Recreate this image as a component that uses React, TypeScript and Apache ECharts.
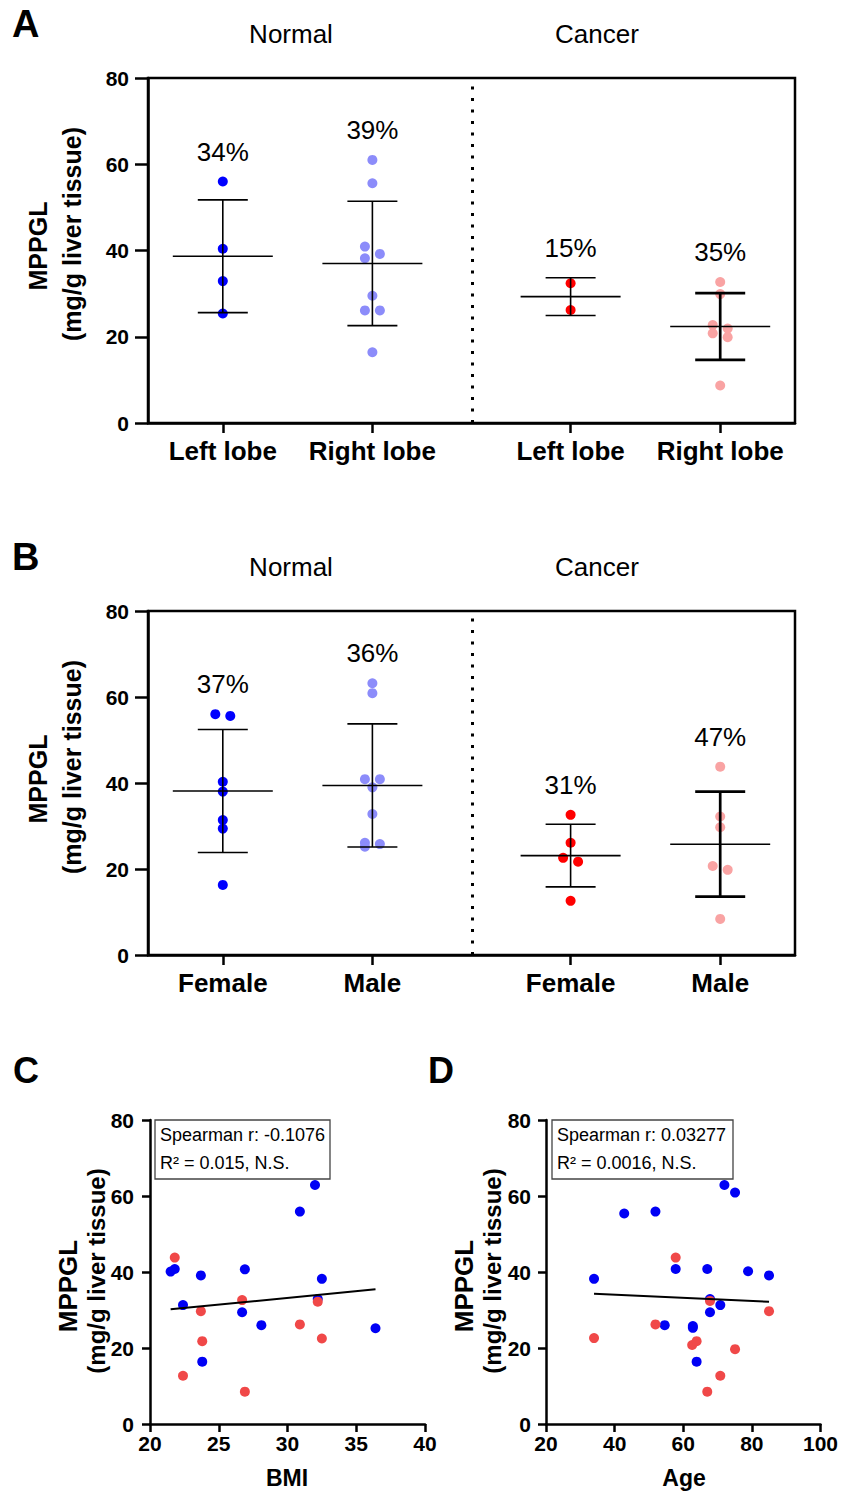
import { useEffect, useRef } from "react";
import * as echarts from "echarts";

const FONT = '"Liberation Sans", Arial, Helvetica, sans-serif';

// ---- Panel A: MPPGL by liver lobe ----
const LOBE_LABELS = ["Left lobe", "Right lobe", "Left lobe", "Right lobe"];
const NORMAL_LEFT_LOBE = [56.0, 40.4, 32.9, 25.4];
const NORMAL_RIGHT_LOBE = [61.0, 55.6, 40.9, 39.2, 38.2, 29.5, 26.1, 26.1, 16.4];
const CANCER_LEFT_LOBE = [32.4, 26.2];
const CANCER_RIGHT_LOBE = [32.7, 29.9, 22.7, 21.9, 20.8, 19.9, 8.7];
const LOBE_CV = ["34%", "39%", "15%", "35%"];

// ---- Panel B: MPPGL by sex ----
const SEX_LABELS = ["Female", "Male", "Female", "Male"];
const NORMAL_FEMALE = [56.0, 55.6, 40.3, 38.0, 31.4, 29.4, 16.3];
const NORMAL_MALE = [63.2, 60.9, 40.9, 40.9, 39.0, 32.8, 26.1, 25.8, 25.2];
const CANCER_FEMALE = [32.6, 26.1, 22.6, 21.7, 12.6];
const CANCER_MALE = [43.8, 32.2, 29.7, 20.7, 19.8, 8.4];
const SEX_CV = ["37%", "36%", "31%", "47%"];

const GROUP_HEADERS = ["Normal", "Cancer"];

// ---- Panel C: MPPGL vs BMI  [BMI, MPPGL] ----
const BMI_NORMAL = [
  [21.5, 40.1], [21.8, 40.8], [22.4, 31.3], [23.7, 39.1], [23.8, 16.4],
  [26.9, 40.7], [26.7, 29.4], [28.1, 26.0], [30.9, 55.9], [32.0, 62.9],
  [32.2, 32.9], [32.5, 38.2], [36.4, 25.2],
];
const BMI_CANCER = [
  [21.8, 43.8], [23.7, 29.7], [23.8, 21.8], [22.4, 12.7], [26.7, 32.6],
  [26.9, 8.5], [30.9, 26.2], [32.2, 32.2], [32.5, 22.5],
];
const BMI_STATS = ["Spearman r: -0.1076", "R\u00b2 = 0.015, N.S."];

// ---- Panel D: MPPGL vs age  [age, MPPGL] ----
const AGE_NORMAL = [
  [34.0, 38.2], [42.8, 55.4], [51.9, 55.9], [54.6, 26.0], [57.8, 40.8],
  [62.8, 25.8], [62.8, 25.3], [63.9, 16.4], [67.0, 40.8], [67.8, 32.9],
  [67.8, 29.4], [70.8, 31.3], [72.0, 62.9], [75.1, 60.9], [78.9, 40.2],
  [85.0, 39.1],
];
const AGE_CANCER = [
  [34.0, 22.6], [51.9, 26.2], [57.8, 43.8], [62.6, 20.8], [63.9, 21.8],
  [67.0, 8.5], [67.8, 32.4], [70.8, 12.7], [75.1, 19.7], [85.0, 29.7],
];
const AGE_STATS = ["Spearman r: 0.03277", "R\u00b2 = 0.0016, N.S."];

// colours
const NORMAL_DARK = "#0000FF";
const NORMAL_LIGHT = "#8C8CFA";
const CANCER_DARK = "#FF0000";
const CANCER_LIGHT = "#F9A3A3";
const SCATTER_BLUE = "#0000F5";
const SCATTER_RED = "#F04848";

// x slots of the four columns in the dot plots (value-axis units)
const SLOT_X = [1, 3, 5.65, 7.65];
const X_MAX = 8.65;
const DIVIDER_X = 4.325;

const meanOf = (a: number[]) => a.reduce((s, v) => s + v, 0) / a.length;
const sdOf = (a: number[]) => {
  const m = meanOf(a);
  return Math.sqrt(a.reduce((s, v) => s + (v - m) * (v - m), 0) / (a.length - 1));
};

// spread dots that would overlap into alternating left/right positions
function swarmOffsets(values: number[], thr: number, half: number): number[] {
  const idx = values.map((_, i) => i).sort((a, b) => values[b] - values[a]);
  const out = new Array(values.length).fill(0);
  let cluster = [idx[0]];
  const flush = () => {
    if (cluster.length > 1) cluster.forEach((k, j) => (out[k] = j % 2 === 0 ? -half : half));
  };
  for (let j = 1; j < idx.length; j++) {
    if (values[cluster[cluster.length - 1]] - values[idx[j]] < thr) cluster.push(idx[j]);
    else {
      flush();
      cluster = [idx[j]];
    }
  }
  flush();
  return out;
}

// least-squares line across all points, spanning the x range of the data
function fitLine(points: number[][]): number[][] {
  const n = points.length;
  const mx = points.reduce((s, p) => s + p[0], 0) / n;
  const my = points.reduce((s, p) => s + p[1], 0) / n;
  let sxy = 0;
  let sxx = 0;
  points.forEach(([x, y]) => {
    sxy += (x - mx) * (y - my);
    sxx += (x - mx) * (x - mx);
  });
  const b = sxy / sxx;
  const a = my - b * mx;
  const xs = points.map((p) => p[0]);
  const x0 = Math.min(...xs);
  const x1 = Math.max(...xs);
  return [
    [x0, a + b * x0],
    [x1, a + b * x1],
  ];
}

const axisLineStyle = { color: "#000", width: 2.5 };

function slotXAxis(gridIndex: number, labels: string[]) {
  return {
    type: "value",
    gridIndex,
    min: 0,
    max: X_MAX,
    axisLine: { show: true, onZero: false, lineStyle: axisLineStyle },
    axisTick: { show: true, customValues: SLOT_X, length: 10, lineStyle: axisLineStyle },
    axisLabel: {
      show: true,
      customValues: SLOT_X,
      margin: 15,
      fontSize: 26,
      fontWeight: "bold",
      color: "#000",
      fontFamily: FONT,
      formatter: (v: number) => {
        let best = 0;
        SLOT_X.forEach((s, i) => {
          if (Math.abs(s - v) < Math.abs(SLOT_X[best] - v)) best = i;
        });
        return labels[best];
      },
    },
    splitLine: { show: false },
  };
}

function mppglYAxis(gridIndex: number, tickLen: number, fontSize: number, margin: number) {
  return {
    type: "value",
    gridIndex,
    min: 0,
    max: 80,
    interval: 20,
    axisLine: { show: true, onZero: false, lineStyle: axisLineStyle },
    axisTick: { show: true, length: tickLen, lineStyle: axisLineStyle },
    axisLabel: { fontSize, fontWeight: "bold", color: "#000", margin, fontFamily: FONT },
    splitLine: { show: false },
  };
}

function numXAxis(gridIndex: number, min: number, max: number, interval: number) {
  return {
    type: "value",
    gridIndex,
    min,
    max,
    interval,
    axisLine: { show: true, onZero: false, lineStyle: axisLineStyle },
    axisTick: { show: true, length: 8, lineStyle: axisLineStyle },
    axisLabel: { fontSize: 21, fontWeight: "bold", color: "#000", margin: 9, fontFamily: FONT },
    splitLine: { show: false },
  };
}

function dotSeries(gridIndex: number, values: number[], slot: number, color: string) {
  const off = swarmOffsets(values, 1.85, 0.1);
  return {
    type: "scatter",
    xAxisIndex: gridIndex,
    yAxisIndex: gridIndex,
    symbolSize: 10,
    itemStyle: { color, opacity: 1 },
    z: 2,
    data: values.map((v, i) => [SLOT_X[slot] + off[i], v]),
  };
}

// mean line, SD whiskers and the CV text above each column
function summarySeries(gridIndex: number, groups: number[][], cv: string[], whiskerWidths: number[]) {
  return {
    type: "custom",
    xAxisIndex: gridIndex,
    yAxisIndex: gridIndex,
    z: 5,
    silent: true,
    data: groups.map((g, i) => {
      const m = meanOf(g);
      const s = sdOf(g);
      return [SLOT_X[i], m, s, Math.max(Math.max(...g), m + s)];
    }),
    renderItem: (params: any, api: any) => {
      const i = params.dataIndex;
      const x = api.value(0);
      const m = api.value(1);
      const s = api.value(2);
      const top = api.value(3);
      const [cx, cy] = api.coord([x, m]);
      const yHi = api.coord([x, m + s])[1];
      const yLo = api.coord([x, m - s])[1];
      const yTop = api.coord([x, top])[1];
      const w = whiskerWidths[i];
      const stroke = "#000";
      return {
        type: "group",
        children: [
          { type: "line", shape: { x1: cx - 50, y1: cy, x2: cx + 50, y2: cy }, style: { stroke, lineWidth: 1.6 } },
          { type: "line", shape: { x1: cx, y1: yHi, x2: cx, y2: yLo }, style: { stroke, lineWidth: w } },
          { type: "line", shape: { x1: cx - 25, y1: yHi, x2: cx + 25, y2: yHi }, style: { stroke, lineWidth: w } },
          { type: "line", shape: { x1: cx - 25, y1: yLo, x2: cx + 25, y2: yLo }, style: { stroke, lineWidth: w } },
          {
            type: "text",
            x: cx,
            y: yTop - 30,
            style: {
              text: cv[i],
              fill: "#000",
              fontSize: 26,
              fontFamily: FONT,
              align: "center",
              verticalAlign: "middle",
              textAlign: "center",
              textVerticalAlign: "middle",
            },
          },
        ],
      };
    },
  };
}

function dividerSeries(gridIndex: number) {
  return {
    type: "scatter",
    xAxisIndex: gridIndex,
    yAxisIndex: gridIndex,
    data: [],
    markLine: {
      silent: true,
      symbol: "none",
      label: { show: false },
      lineStyle: { color: "#000", width: 3, type: [3, 8.5] },
      data: [{ xAxis: DIVIDER_X }],
    },
  };
}

function pointSeries(gridIndex: number, data: number[][], color: string, z: number) {
  return {
    type: "scatter",
    xAxisIndex: gridIndex,
    yAxisIndex: gridIndex,
    symbolSize: 10,
    itemStyle: { color, opacity: 1 },
    z,
    data,
  };
}

function trendSeries(gridIndex: number, data: number[][]) {
  return {
    type: "line",
    xAxisIndex: gridIndex,
    yAxisIndex: gridIndex,
    showSymbol: false,
    symbol: "none",
    z: 6,
    lineStyle: { color: "#000", width: 2 },
    data,
  };
}

function txt(x: number, y: number, text: string, font: string, align = "center", rotation = 0) {
  return {
    type: "text",
    x,
    y,
    rotation,
    style: { text, font, fill: "#000", align, verticalAlign: "middle", textAlign: align, textVerticalAlign: "middle" },
  };
}

function statsBox(x: number, w: number, lines: string[]) {
  return [
    {
      type: "rect",
      shape: { x, y: 1120, width: w, height: 59 },
      style: { fill: "#fff", stroke: "#444", lineWidth: 1.3 },
      z: 10,
    },
    { ...txt(x + 5, 1135, lines[0], `18px ${FONT}`, "left"), z: 11 },
    { ...txt(x + 5, 1163, lines[1], `18px ${FONT}`, "left"), z: 11 },
  ];
}

export default function App() {
  const ref = useRef<HTMLDivElement>(null);

  useEffect(() => {
    if (!ref.current) return;
    const chart = echarts.init(ref.current, undefined, { renderer: "svg" });

    const lobeGroups = [NORMAL_LEFT_LOBE, NORMAL_RIGHT_LOBE, CANCER_LEFT_LOBE, CANCER_RIGHT_LOBE];
    const sexGroups = [NORMAL_FEMALE, NORMAL_MALE, CANCER_FEMALE, CANCER_MALE];
    const groupColors = [NORMAL_DARK, NORMAL_LIGHT, CANCER_DARK, CANCER_LIGHT];
    const whiskers = [1.6, 1.6, 1.6, 2.7];

    const bold = (px: number) => `bold ${px}px ${FONT}`;
    const plain = (px: number) => `${px}px ${FONT}`;
    const up = Math.PI / 2;

    const graphic: any[] = [
      // panel letters
      txt(12, 24, "A", bold(38), "left"),
      txt(12, 557, "B", bold(38), "left"),
      txt(13, 1070, "C", bold(36), "left"),
      txt(428, 1070, "D", bold(36), "left"),
      // group headers
      txt(291, 34, GROUP_HEADERS[0], plain(26)),
      txt(597, 34, GROUP_HEADERS[1], plain(26)),
      txt(291, 567, GROUP_HEADERS[0], plain(26)),
      txt(597, 567, GROUP_HEADERS[1], plain(26)),
      // y-axis titles
      txt(38, 246, "MPPGL", bold(25), "center", up),
      txt(72, 234, "(mg/g liver tissue)", bold(25), "center", up),
      txt(38, 779, "MPPGL", bold(25), "center", up),
      txt(72, 767, "(mg/g liver tissue)", bold(25), "center", up),
      txt(68, 1286, "MPPGL", bold(26), "center", up),
      txt(96, 1271, "(mg/g liver tissue)", bold(24), "center", up),
      txt(464, 1286, "MPPGL", bold(26), "center", up),
      txt(492, 1271, "(mg/g liver tissue)", bold(24), "center", up),
      // x-axis titles
      txt(287, 1478, "BMI", bold(23)),
      txt(684, 1478, "Age", bold(23)),
      ...statsBox(155, 175, BMI_STATS),
      ...statsBox(552, 181, AGE_STATS),
    ];

    const option: any = {
      animation: false,
      backgroundColor: "#fff",
      textStyle: { fontFamily: FONT },
      grid: [
        { left: 148, top: 78, width: 647, height: 345, show: true, borderColor: "#000", borderWidth: 2.5 },
        { left: 148, top: 611, width: 647, height: 344, show: true, borderColor: "#000", borderWidth: 2.5 },
        { left: 150, top: 1120, width: 275, height: 304 },
        { left: 546, top: 1120, width: 276, height: 304 },
      ],
      xAxis: [
        slotXAxis(0, LOBE_LABELS),
        slotXAxis(1, SEX_LABELS),
        numXAxis(2, 20, 40, 5),
        numXAxis(3, 20, 100, 20),
      ],
      yAxis: [
        mppglYAxis(0, 13, 21, 19),
        mppglYAxis(1, 13, 21, 19),
        mppglYAxis(2, 8, 21, 16),
        mppglYAxis(3, 8, 21, 15),
      ],
      graphic,
      series: [
        ...lobeGroups.map((g, i) => dotSeries(0, g, i, groupColors[i])),
        summarySeries(0, lobeGroups, LOBE_CV, whiskers),
        dividerSeries(0),
        ...sexGroups.map((g, i) => dotSeries(1, g, i, groupColors[i])),
        summarySeries(1, sexGroups, SEX_CV, whiskers),
        dividerSeries(1),
        pointSeries(2, BMI_NORMAL, SCATTER_BLUE, 2),
        pointSeries(2, BMI_CANCER, SCATTER_RED, 3),
        trendSeries(2, fitLine([...BMI_NORMAL, ...BMI_CANCER])),
        pointSeries(3, AGE_NORMAL, SCATTER_BLUE, 2),
        pointSeries(3, AGE_CANCER, SCATTER_RED, 3),
        trendSeries(3, fitLine([...AGE_NORMAL, ...AGE_CANCER])),
      ],
    };

    chart.setOption(option);
    return () => chart.dispose();
  }, []);

  return (
    <div
      ref={ref}
      style={{ position: "absolute", left: 0, top: 0, width: 841, height: 1495, background: "#fff" }}
    />
  );
}
